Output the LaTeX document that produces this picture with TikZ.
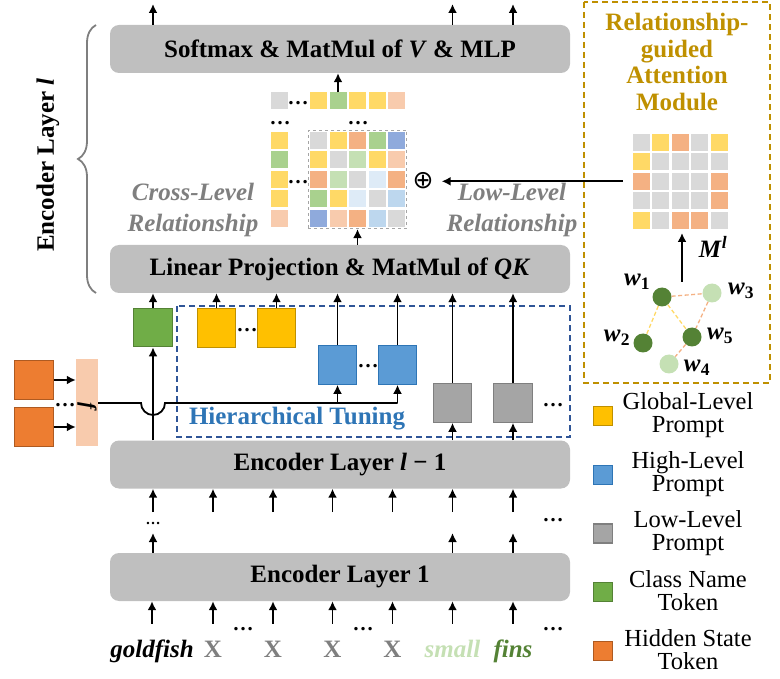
\documentclass[tikz,border=0pt]{standalone}
\usepackage{fontspec}
\setmainfont{Liberation Serif}
\newfontfamily\symfont{DejaVu Sans}
\usetikzlibrary{arrows.meta, positioning, fit, decorations.pathreplacing}

\definecolor{layergray}{HTML}{BFBFBF}
\definecolor{clsgreen}{HTML}{70AD47}
\definecolor{clsgreenD}{HTML}{548235}
\definecolor{glbyellow}{HTML}{FFC000}
\definecolor{glbyellowD}{HTML}{BF9000}
\definecolor{hiblue}{HTML}{5B9BD5}
\definecolor{hiblueD}{HTML}{2E75B6}
\definecolor{logray}{HTML}{A5A5A5}
\definecolor{lograyD}{HTML}{7F7F7F}
\definecolor{hidorange}{HTML}{ED7D31}
\definecolor{hidorangeD}{HTML}{AE5A21}
\definecolor{fpeach}{HTML}{F8CBAD}
\definecolor{tuneblue}{HTML}{2F5597}
\definecolor{gold}{HTML}{BF9000}
\definecolor{relgray}{HTML}{7F7F7F}
% matrix colours
\definecolor{my}{HTML}{FFD966}
\definecolor{mg}{HTML}{A9D18E}
\definecolor{ms}{HTML}{F4B183}
\definecolor{mp}{HTML}{F8CBAD}
\definecolor{mk}{HTML}{D9D9D9}
\definecolor{mb}{HTML}{8FAADC}
\definecolor{ml}{HTML}{C5E0B4}
\definecolor{mv}{HTML}{DEEBF7}
\definecolor{mc}{HTML}{BDD7EE}

\newcommand{\bigfont}{\fontsize{25}{28}\selectfont}
\newcommand{\dotsfont}{\fontsize{21}{21}\selectfont\bfseries}
\newcommand{\wl}[1]{\textbf{\textit{w}}\textsubscript{\textbf{#1}}}

\begin{document}
\begin{tikzpicture}[x=1pt, y=-1pt,
	layer/.style={fill=layergray, rounded corners=9pt, minimum width=460pt,
		minimum height=48pt, font=\bigfont\bfseries},
	token/.style={minimum size=38.5pt, inner sep=0pt, line width=1.2pt},
	cell/.style={minimum size=17pt, inner sep=0pt},
	up/.style={-{Latex[length=9pt,width=9pt]}, line width=1.8pt},
	gnode/.style={circle, minimum size=19pt, inner sep=0pt},
	gedge/.style={line width=1.3pt, dash pattern=on 4pt off 2.5pt},
	dotz/.style={font=\dotsfont, inner sep=0pt},
	inlab/.style={anchor=base, font=\bigfont\bfseries, inner sep=0pt, text height=18pt},
	wlab/.style={font=\bigfont, inner sep=0pt},
	legsq/.style={minimum size=19pt, inner sep=0pt, line width=1.2pt},
	legtext/.style={font=\fontsize{24.5}{23}\selectfont, align=center},
]
\useasboundingbox (0,0) rectangle (780,679);

% Add the layers
\node[layer] (soft) at (340,49) {Softmax \& MatMul of \textit{V} \& MLP};
\node[layer] (lin) at (340,269) {Linear Projection \& MatMul of \textit{QK}};
\node[layer] (encm) at (340,464.5) {Encoder Layer \textit{l} − 1};
\node[layer] (enc1) at (340,577) {Encoder Layer 1};

% brace of layer l
\draw[decorate, decoration={brace, amplitude=18pt}, relgray, line width=1.8pt]
	(96,293) -- (96,25);
\node[rotate=90, font=\bigfont\bfseries] (lname) at (48,165) {Encoder Layer \textit{l}};

% outputs of the top layer
\foreach \xx [count=\i] in {153,452.5,513} {
	\coordinate (o\i) at (\xx,4);
	\draw[up] (o\i |- soft.north) -- (o\i);
}

% Add the inputs
\node[inlab] (in1) at (152,657) {\textit{goldfish}};
\node[inlab, text=relgray] (in2) at (213,657) {X};
\node[inlab, text=relgray] (in3) at (273,657) {X};
\node[inlab, text=relgray] (in4) at (332.5,657) {X};
\node[inlab, text=relgray] (in5) at (392.5,657) {X};
\node[inlab, text=ml] (in6) at (452.5,657) {\textit{small}};
\node[inlab, text=clsgreenD] (in7) at (513,657) {\textit{fins}};
\foreach \tk in {in1,in2,in3,in4,in5,in6,in7}
	\draw[up] ([yshift=15pt]\tk.north) -- (\tk.north |- enc1.south);
\node[dotz] (d1) at (243,629) {…};
\node[dotz] (d2) at (363,629) {…};
\node[dotz] (d3) at (553,629) {…};

% between layer 1 and layer l-1
\foreach \xx [count=\i] in {153,213,273,332.5,392.5,452.5,513} {
	\coordinate (t\i) at (\xx,512);
	\draw[up] (t\i) -- (t\i |- encm.south);
}
\foreach \xx [count=\i] in {153,452.5,513} {
	\coordinate (b\i) at (\xx,533);
	\draw[up] (b\i |- enc1.north) -- (b\i);
}
\node[dotz, font=\fontsize{15}{15}\selectfont\bfseries] (d4) at (153,523) {…};
\node[dotz] (d5) at (553,520) {…};

% Add the prompts
\draw[tuneblue, line width=1.2pt, dash pattern=on 6pt off 4pt] (177,306) rectangle (570,437);
\node[font=\bigfont\bfseries, text=hiblueD] (tune) at (297,419) {Hierarchical Tuning};

\node[token, fill=clsgreen, draw=clsgreenD] (cls) at (153,327.5) {};
\node[token, fill=glbyellow, draw=glbyellowD] (glb1) at (216.5,328) {};
\node[token, fill=glbyellow, draw=glbyellowD] (glb2) at (276.5,328) {};
\node[token, fill=hiblue, draw=hiblueD] (hi1) at (337.5,365) {};
\node[token, fill=hiblue, draw=hiblueD] (hi2) at (397.5,365) {};
\node[token, fill=logray, draw=lograyD] (lo1) at (452.5,403) {};
\node[token, fill=logray, draw=lograyD] (lo2) at (513,403) {};
\node[dotz] (d6) at (247,330) {…};
\node[dotz] (d7) at (368,366) {…};
\node[dotz] (d8) at (553,405) {…};

\draw[up] (encm.north -| cls) -- (cls.south);
\foreach \tk in {cls,glb1,glb2,hi1,hi2,lo1,lo2}
	\draw[up] (\tk.north) -- (\tk.north |- lin.south);
\draw[up] (encm.north -| lo1) -- (lo1.south);
\draw[up] (encm.north -| lo2) -- (lo2.south);

% hidden states and f
\node[token, fill=hidorange, draw=hidorangeD] (hid1) at (34,380) {};
\node[token, fill=hidorange, draw=hidorangeD] (hid2) at (34,427) {};
\node[fill=fpeach, minimum width=22pt, minimum height=87pt, inner sep=0pt] (fbox) at (87,402.5) {};
\node[rotate=-90, font=\fontsize{21}{21}\selectfont\bfseries\itshape] (fname) at (87,406) {f};
\node[dotz] (d9) at (65,405) {…};
\draw[up] (hid1.east) -- (hid1.east -| fbox.west);
\draw[up] (hid2.east) -- (hid2.east -| fbox.west);
\coordinate (hop) at (141,403);
\draw[line width=1.8pt] (fbox.east |- hop) -- (hop)
	arc[start angle=180, end angle=360, radius=12pt] -- (hi2.south |- hop);
\draw[up] (hi1.south |- hop) -- (hi1.south);
\draw[up] (hi2.south |- hop) -- (hi2.south);

% attention map
\foreach \clr [count=\j from 0] in {my,mg,my,my,mp} {
	\node[cell, fill=\clr] (k-\j) at (318.5+19.5*\j,101) {};
	\node[cell, fill=\clr] (q-\j) at (279.5,140.5+19.5*\j) {};
}
\node[cell, fill=mk] (k-g) at (279.5,101) {};
\foreach \row [count=\i from 0] in {{mk,my,ms,mg,mb},{my,mk,ml,my,mp},
		{ms,ml,mk,mv,ms},{mg,my,mv,mk,mc},{mb,mp,ms,mc,mk}} {
	\foreach \clr [count=\j from 0] in \row
		\node[cell, fill=\clr] (a-\i-\j) at (318.5+19.5*\j,140.5+19.5*\i) {};
}
\node[fit=(a-0-0)(a-4-4), draw=logray, dashed, line width=0.8pt, inner sep=1.5pt] (attn) {};
\node[dotz] (d10) at (298,103) {…};
\node[dotz] (d11) at (280,123) {…};
\node[dotz] (d12) at (358,123) {…};
\node[dotz] (d13) at (298,182) {…};
\draw[up] (k-1.north) -- (k-1.north |- soft.south);
\draw[up] (attn.south |- lin.north) -- (attn.south);

\node[font=\bigfont\bfseries\itshape, text=relgray, align=center,
	execute at begin node=\setlength{\baselineskip}{31pt}] (cross) at (193,210) {Cross-Level\\Relationship};
\node[font=\bigfont\bfseries\itshape, text=relgray, align=center,
	execute at begin node=\setlength{\baselineskip}{31pt}] (low) at (512,210) {Low-Level\\Relationship};
\node[font=\fontsize{25}{25}\selectfont\symfont, inner sep=0pt] (oplus) at (423,181) {⊕};

% Relationship-guided Attention Module
\draw[gold, line width=1.5pt, dash pattern=on 6pt off 4pt] (584,2) rectangle (770,383);
\node[font=\bigfont\bfseries, text=gold, align=center,
	execute at begin node=\setlength{\baselineskip}{26.5pt}] (rgam) at (677,62) {Relationship-\\guided\\Attention\\Module};
\foreach \row [count=\i from 0] in {{mk,my,ms,mk,my},{my,mk,mk,mk,mk},
		{ms,mk,mk,mk,ms},{mk,mk,mk,mk,ms},{my,mk,ms,ms,mk}} {
	\foreach \clr [count=\j from 0] in \row
		\node[cell, fill=\clr] (r-\i-\j) at (641.5+19.4*\j,142.5+19.4*\i) {};
}
\node[fit=(r-0-0)(r-4-4), inner sep=0pt] (relm) {};
\draw[up, shorten <=10pt, shorten >=8pt] (relm.west) -- (oplus.east |- relm.west);

% word graph
\node[gnode, fill=clsgreenD] (w1) at (662,297) {};
\node[gnode, fill=ml] (w3) at (712,293) {};
\node[gnode, fill=clsgreenD] (w2) at (643,343) {};
\node[gnode, fill=clsgreenD] (w5) at (692,337) {};
\node[gnode, fill=ml] (w4) at (669,364) {};
\draw[gedge, draw=ms] (w1) -- (w3);
\draw[gedge, draw=my] (w1) -- (w2);
\draw[gedge, draw=my] (w1) -- (w5);
\draw[gedge, draw=ms] (w3) -- (w5);
\draw[gedge, draw=ms] (w5) -- (w4);
\node[wlab] (lw1) at (637,282) {\wl{1}};
\node[wlab] (lw3) at (741,291) {\wl{3}};
\node[wlab] (lw2) at (617,338) {\wl{2}};
\node[wlab] (lw5) at (720,336) {\wl{5}};
\node[wlab] (lw4) at (697,368) {\wl{4}};
\coordinate (mtail) at (682,282);
\draw[up, shorten >=4pt] (mtail) -- (mtail |- relm.south);
\node[wlab] (mlab) at (713,247) {\textbf{\textit{M}}\textsuperscript{\textbf{\textit{l}}}};

% Add the legend
\node[legsq, fill=glbyellow, draw=glbyellowD] (lg1) at (603,416) {};
\node[legsq, fill=hiblue, draw=hiblueD] (lg2) at (603,475) {};
\node[legsq, fill=logray, draw=lograyD] (lg3) at (603,533.5) {};
\node[legsq, fill=clsgreen, draw=clsgreenD] (lg4) at (603,592) {};
\node[legsq, fill=hidorange, draw=hidorangeD] (lg5) at (603,651) {};
\node[legtext] (lt1) at (688,415) {Global-Level\\Prompt};
\node[legtext] (lt2) at (688,474) {High-Level\\Prompt};
\node[legtext] (lt3) at (688,533) {Low-Level\\Prompt};
\node[legtext] (lt4) at (688,591) {Class Name\\Token};
\node[legtext] (lt5) at (688,650) {Hidden State\\Token};
\end{tikzpicture}
\end{document}
